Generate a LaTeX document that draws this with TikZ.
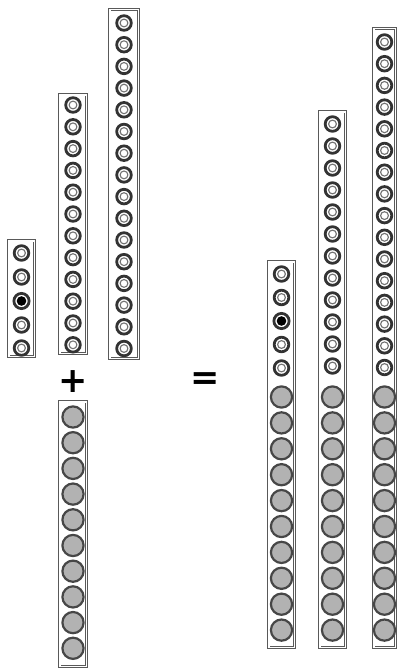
\documentclass[tikz,border=0pt]{standalone}
\usepackage{fontspec}
\newfontfamily\opfont{DejaVu Sans}
\tikzset{
  vecbox/.style={draw=black!65,line width=0.8pt,double=white,double distance=1.6pt},
  ringout/.style={draw=black!80,line width=2.8pt,fill=white},
  ringin/.style={draw=black!55,line width=1.1pt},
  ballstyle/.style={draw=black!72,line width=2.2pt,fill=black!30},
  opsign/.style={font=\opfont\bfseries\fontsize{35}{35}\selectfont,inner sep=0pt},
  pics/holering/.style={code={
    \draw[ringout] (0,0) circle[radius=7.3pt];
    \draw[ringin] (0,0) circle[radius=3.9pt];}},
  pics/hotring/.style={code={
    \draw[ringout] (0,0) circle[radius=7.6pt];
    \fill (0,0) circle[radius=4.8pt];}},
  pics/greyball/.style={code={
    \draw[ballstyle] (0,0) circle[radius=10.6pt];}}
}
\begin{document}
\begin{tikzpicture}[x=1pt,y=-1pt]
  \useasboundingbox (0,0) rectangle (399,669);
  % left: short vector with one hot entry
  \draw[vecbox] (8.7,240.7) rectangle (34.3,356.3);
  \foreach \y in {253,277,325,348}
    \pic at (21.5,\y) {holering};
  \pic at (21.5,301) {hotring};
  % medium vector
  \draw[vecbox] (59.7,94.7) rectangle (86.3,353.3);
  \foreach \i in {0,...,11}
    \pic at (73,{105+21.8*\i}) {holering};
  % long vector
  \draw[vecbox] (109.7,9.7) rectangle (138.3,358.3);
  \foreach \i in {0,...,15}
    \pic at (124,{23+21.7*\i}) {holering};
  % grey vector to append
  \draw[vecbox] (59.7,401.7) rectangle (86.3,666.3);
  \foreach \i in {0,...,9}
    \pic at (73,{417+25.7*\i}) {greyball};
  \node[opsign] (plus) at (73.5,382) {+};
  \node[opsign] (equals) at (205.5,381.5) {=};
  % results
  \draw[vecbox] (268.7,261.7) rectangle (294.3,647.3);
  \foreach \y in {274,297.5,344.5,368}
    \pic at (281.5,\y) {holering};
  \pic at (281.5,321) {hotring};
  \draw[vecbox] (319.7,111.7) rectangle (345.3,647.3);
  \foreach \i in {0,...,11}
    \pic at (332.5,{124+22*\i}) {holering};
  \draw[vecbox] (373.7,28.7) rectangle (395.3,647.3);
  \foreach \i in {0,...,15}
    \pic at (384.5,{42+21.7*\i}) {holering};
  \foreach \x in {281.5,332.5,384.5}
    \foreach \i in {0,...,9}
      \pic at (\x,{397+25.9*\i}) {greyball};
\end{tikzpicture}
\end{document}
